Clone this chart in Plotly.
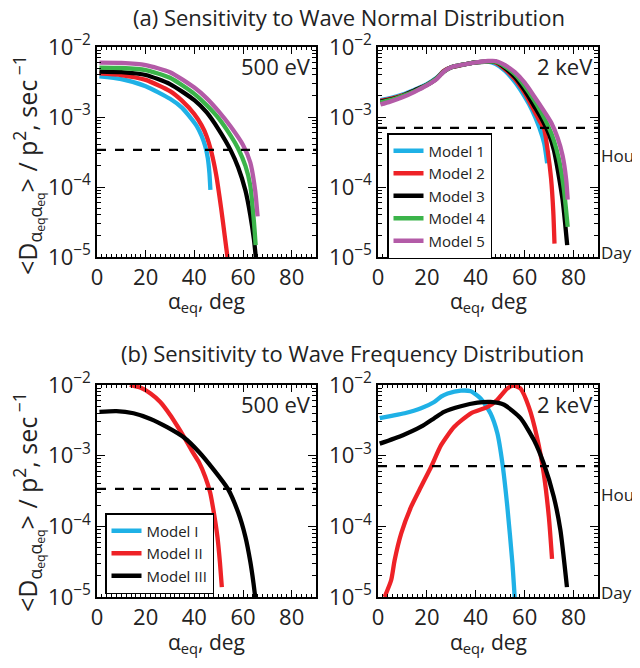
import math
import plotly.graph_objects as go

# ---------------- data ----------------
# (a) wave normal distribution, 500 eV
a500_m1 = [1, 10, 20, 30, 35, 38, 41, 43, 44.5, 45.5, 46.2, 46.6]
d500_m1 = [3.80e-3, 3.47e-3, 2.75e-3, 1.82e-3, 1.35e-3, 1.02e-3, 7.41e-4, 5.37e-4, 3.80e-4, 2.63e-4, 1.58e-4, 9.12e-5]
a500_m2 = [1, 10, 20, 30, 35, 40, 43, 45, 47, 49, 51, 52.5, 53.8]
d500_m2 = [4.21e-3, 3.98e-3, 3.39e-3, 2.34e-3, 1.70e-3, 1.10e-3, 7.59e-4, 5.37e-4, 3.16e-4, 1.48e-4, 5.01e-5, 2.00e-5, 8.91e-6]
a500_m3 = [1, 10, 20, 30, 40, 45, 50, 55, 58, 61, 63, 64.5, 65.4]
d500_m3 = [4.47e-3, 4.37e-3, 3.98e-3, 2.95e-3, 1.74e-3, 1.17e-3, 6.61e-4, 3.31e-4, 1.91e-4, 8.91e-5, 3.98e-5, 1.78e-5, 8.91e-6]
a500_m4 = [1, 10, 20, 30, 40, 45, 50, 55, 58, 61, 63, 64.5, 65.2]
d500_m4 = [5.07e-3, 5.01e-3, 4.68e-3, 3.63e-3, 2.14e-3, 1.48e-3, 9.55e-4, 5.37e-4, 3.55e-4, 2.00e-4, 1.05e-4, 3.16e-5, 1.48e-5]
a500_m5 = [1, 10, 20, 30, 40, 45, 50, 55, 60, 63, 65, 66]
d500_m5 = [5.97e-3, 5.92e-3, 5.50e-3, 4.37e-3, 2.63e-3, 1.86e-3, 1.20e-3, 7.24e-4, 3.98e-4, 2.24e-4, 8.91e-5, 3.80e-5]

# (a) wave normal distribution, 2 keV
a2k_m1 = [1, 5, 10, 15, 20, 24, 27, 30, 35, 40, 45, 48, 52, 56, 60, 63, 66, 68, 69.2]
d2k_m1 = [1.74e-3, 1.86e-3, 2.09e-3, 2.45e-3, 2.95e-3, 3.63e-3, 4.57e-3, 5.13e-3, 5.62e-3, 6.03e-3, 6.17e-3, 5.75e-3, 4.57e-3, 3.16e-3, 1.95e-3, 1.26e-3, 7.08e-4, 4.17e-4, 2.19e-4]
a2k_m2 = [1, 5, 10, 15, 20, 24, 27, 30, 35, 40, 45, 48, 52, 56, 60, 63, 66, 68, 69.5, 70.8, 71.7, 72.2]
d2k_m2 = [1.70e-3, 1.82e-3, 2.04e-3, 2.40e-3, 2.88e-3, 3.55e-3, 4.57e-3, 5.13e-3, 5.62e-3, 6.03e-3, 6.17e-3, 6.03e-3, 4.79e-3, 3.47e-3, 2.19e-3, 1.41e-3, 8.91e-4, 6.61e-4, 3.16e-4, 1.32e-4, 4.47e-5, 1.55e-5]
a2k_m3 = [1, 5, 10, 15, 20, 24, 27, 30, 35, 40, 45, 48, 52, 56, 60, 64, 67, 70, 72, 74, 75.5, 76.5, 77.4]
d2k_m3 = [1.66e-3, 1.78e-3, 2.00e-3, 2.40e-3, 2.88e-3, 3.55e-3, 4.47e-3, 5.13e-3, 5.62e-3, 6.03e-3, 6.17e-3, 6.17e-3, 5.01e-3, 3.72e-3, 2.40e-3, 1.41e-3, 9.33e-4, 5.62e-4, 3.31e-4, 1.41e-4, 6.61e-5, 3.16e-5, 1.48e-5]
a2k_m4 = [1, 5, 10, 15, 20, 24, 27, 30, 35, 40, 45, 48, 52, 56, 60, 64, 67, 70, 72, 74, 76, 77.6]
d2k_m4 = [1.62e-3, 1.74e-3, 2.00e-3, 2.34e-3, 2.88e-3, 3.55e-3, 4.47e-3, 5.13e-3, 5.62e-3, 6.03e-3, 6.17e-3, 6.17e-3, 5.25e-3, 4.07e-3, 2.75e-3, 1.70e-3, 1.12e-3, 6.92e-4, 4.57e-4, 2.51e-4, 9.55e-5, 2.69e-5]
a2k_m5 = [1, 5, 10, 15, 20, 24, 27, 30, 35, 40, 45, 48, 52, 56, 60, 64, 68, 71, 73.5, 75.5, 77, 77.6]
d2k_m5 = [1.51e-3, 1.66e-3, 1.91e-3, 2.29e-3, 2.82e-3, 3.47e-3, 4.47e-3, 5.13e-3, 5.62e-3, 6.03e-3, 6.31e-3, 6.31e-3, 5.50e-3, 4.37e-3, 3.09e-3, 1.95e-3, 1.20e-3, 8.13e-4, 5.01e-4, 2.82e-4, 1.26e-4, 6.61e-5]

# (b) wave frequency distribution, 500 eV (Model I is off-scale)
b500_m2 = [13.5, 18, 22, 26, 30, 33, 36, 39, 42, 44.5, 46.5, 48, 49.5, 50.5, 51.3]
e500_m2 = [1.00e-2, 9.12e-3, 7.59e-3, 5.75e-3, 3.80e-3, 2.63e-3, 1.78e-3, 1.17e-3, 7.94e-4, 5.01e-4, 3.02e-4, 1.58e-4, 7.08e-5, 3.16e-5, 1.38e-5]
b500_m3 = [1, 8, 15, 22, 29, 36, 42, 48, 53.8, 58, 61, 63, 64.3, 65.2]
e500_m3 = [4.17e-3, 4.27e-3, 3.98e-3, 3.31e-3, 2.51e-3, 1.78e-3, 1.12e-3, 6.31e-4, 3.39e-4, 1.58e-4, 7.08e-5, 3.16e-5, 1.58e-5, 8.91e-6]

# (b) wave frequency distribution, 2 keV
b2k_m1 = [0.7, 5, 10.9, 17.6, 23, 25.8, 28.5, 33.9, 38, 42, 46, 48.8, 50.9, 52.9, 55, 56]
e2k_m1 = [3.39e-3, 3.63e-3, 3.98e-3, 4.68e-3, 5.75e-3, 6.84e-3, 7.59e-3, 8.32e-3, 8.13e-3, 6.46e-3, 3.98e-3, 2.09e-3, 7.76e-4, 1.91e-4, 2.95e-5, 8.91e-6]
b2k_m2 = [2.7, 5.4, 6.8, 9.5, 13.6, 17.6, 21.7, 25.8, 31.2, 38, 44.8, 48.8, 52.9, 55.6, 58.3, 61.7, 65, 67.8, 69.9, 71.2]
e2k_m2 = [1.00e-5, 1.74e-5, 3.31e-5, 7.94e-5, 1.91e-4, 3.63e-4, 6.92e-4, 1.41e-3, 2.57e-3, 3.98e-3, 4.90e-3, 6.17e-3, 8.91e-3, 9.77e-3, 8.91e-3, 4.90e-3, 1.86e-3, 5.62e-4, 1.35e-4, 3.47e-5]
b2k_m3 = [0.7, 10.2, 17.6, 23, 27, 33.9, 40.7, 46, 51.6, 58.3, 63.8, 67.8, 71.9, 74.6, 77.3]
e2k_m3 = [1.48e-3, 1.95e-3, 2.57e-3, 3.39e-3, 4.17e-3, 5.01e-3, 5.62e-3, 5.75e-3, 5.25e-3, 3.39e-3, 1.66e-3, 7.76e-4, 2.63e-4, 8.91e-5, 1.38e-5]

# dashed reference levels per panel (TL, TR, BL, BR)
dashed_levels = [3.4e-4, 7.0e-4, 3.4e-4, 7.1e-4]
hour_rate = 1 / 3600.0
day_rate = 1 / 86400.0

names_a = ["Model 1", "Model 2", "Model 3", "Model 4", "Model 5"]
names_b = ["Model I", "Model II", "Model III"]
colors = ["#1fb1e6", "#ee2227", "#000000", "#3bb44a", "#b35ba7"]

xticks = [0, 20, 40, 60, 80]
yticks = [1e-5, 1e-4, 1e-3, 1e-2]
yticktext = ["10<sup>−5</sup>", "10<sup>−4</sup>", "10<sup>−3</sup>", "10<sup>−2</sup>"]

FONT = "Open Sans"
fig = go.Figure()

def add(x, y, color, axis, name, legend=None, show=False):
    fig.add_trace(go.Scatter(
        x=x, y=y, mode="lines", name=name,
        line=dict(color=color, width=4.3, shape="spline", smoothing=0.6),
        xaxis="x" + axis, yaxis="y" + axis,
        showlegend=show, legend=legend or "legend"))

# top-left
for a, d, c, n in zip([a500_m1, a500_m2, a500_m3, a500_m4, a500_m5],
                      [d500_m1, d500_m2, d500_m3, d500_m4, d500_m5], colors, names_a):
    add(a, d, c, "", n)
# top-right (legend 1)
for a, d, c, n in zip([a2k_m1, a2k_m2, a2k_m3, a2k_m4, a2k_m5],
                      [d2k_m1, d2k_m2, d2k_m3, d2k_m4, d2k_m5], colors, names_a):
    add(a, d, c, "2", n, "legend", True)
# bottom-left
add(b500_m2, e500_m2, colors[1], "3", names_b[1])
add(b500_m3, e500_m3, colors[2], "3", names_b[2])
# bottom-right (legend 2)
for a, d, c, n in zip([b2k_m1, b2k_m2, b2k_m3], [e2k_m1, e2k_m2, e2k_m3], colors[:3], names_b):
    add(a, d, c, "4", n, "legend2", True)

W, H = 640, 668
OFF = 8  # page body margin in the browser
def px(v):
    return (v - OFF) / W
def py(v):
    return 1 - (v - OFF) / H

xdoms = [(px(97), px(316)), (px(378), px(598))]
ydoms = [(py(257), py(47)), (py(597), py(385))]

axcommon = dict(showline=True, linecolor="black", linewidth=1.5, mirror="allticks",
                ticks="inside", tickcolor="black", showgrid=False, zeroline=False,
                automargin=False,
                tickfont=dict(family=FONT, size=22, color="#222"))
layout = {}
panels = [("", 0, 0), ("2", 1, 0), ("3", 0, 1), ("4", 1, 1)]
for suf, ci, ri in panels:
    layout["xaxis" + suf] = dict(axcommon, domain=xdoms[ci], range=[0, 90],
                                 anchor="y" + suf, tickvals=xticks, ticklen=7,
                                 minor=dict(ticks="inside", dtick=2, ticklen=3, tickcolor="black"))
    layout["yaxis" + suf] = dict(axcommon, domain=ydoms[ri], type="log", range=[-5, -2],
                                 anchor="x" + suf, tickvals=yticks, ticktext=yticktext, ticklen=8,
                                 minor=dict(ticks="inside", dtick="D1", ticklen=4, tickcolor="black"))

shapes = []
for (suf, ci, ri), lev in zip(panels, dashed_levels):
    xr = "x" + suf if suf else "x"
    yr = "y" + suf if suf else "y"
    shapes.append(dict(type="line", xref=xr + " domain", yref=yr, x0=0, x1=1, y0=lev, y1=lev,
                       line=dict(color="black", width=2.2, dash="dash")))

ann = []
def txt(text, x, y, size, xanchor="center", yanchor="middle", xref="paper", yref="paper", angle=0):
    ann.append(dict(text=text, x=x, y=y, xref=xref, yref=yref, showarrow=False,
                    xanchor=xanchor, yanchor=yanchor, textangle=angle,
                    font=dict(family=FONT, size=size, color="#222")))

txt("(a) Sensitivity to Wave Normal Distribution", px(349), py(17), 22)
txt("(b) Sensitivity to Wave Frequency Distribution", px(352), py(353), 22)
ytitle = "&lt;D<sub>α<sub>eq</sub>α<sub>eq</sub></sub>&gt; / p<sup>2</sup>, sec<sup> −1</sup>"
txt(ytitle, px(28), py(165), 25, angle=-90)
txt(ytitle, px(28), py(502), 25, angle=-90)
xtitle = "α<sub>eq</sub>, deg"
for suf, ci, ri in panels:
    xc = (xdoms[ci][0] + xdoms[ci][1]) / 2
    yc = py(302) if ri == 0 else py(643)
    txt(xtitle, xc, yc, 21)
    label = "500 eV" if ci == 0 else "2 keV"
    yr = ("y" + suf if suf else "y") + " domain"
    xr = ("x" + suf if suf else "x") + " domain"
    txt(label, 0.985, 0.99, 22, xanchor="right", yanchor="top", xref=xr, yref=yr)
for suf in ["2", "4"]:
    txt("Hour", 1.005, math.log10(hour_rate), 17, xanchor="left", xref="x" + suf + " domain", yref="y" + suf)
    txt("Day", 1.005, math.log10(day_rate), 17, xanchor="left", xref="x" + suf + " domain", yref="y" + suf)

fig.update_layout(
    width=W, height=H, margin=dict(l=0, r=0, t=0, b=0, autoexpand=False),
    paper_bgcolor="white", plot_bgcolor="white",
    shapes=shapes, annotations=ann,
    legend=dict(x=px(387), y=py(133), xanchor="left", yanchor="top",
                bordercolor="black", borderwidth=1.5, bgcolor="white",
                font=dict(family=FONT, size=15, color="#222"), tracegroupgap=0),
    legend2=dict(x=px(105), y=py(513), xanchor="left", yanchor="top",
                 bordercolor="black", borderwidth=1.5, bgcolor="white",
                 font=dict(family=FONT, size=15, color="#222"), tracegroupgap=0),
    **layout)

fig.write_html("out.html")
